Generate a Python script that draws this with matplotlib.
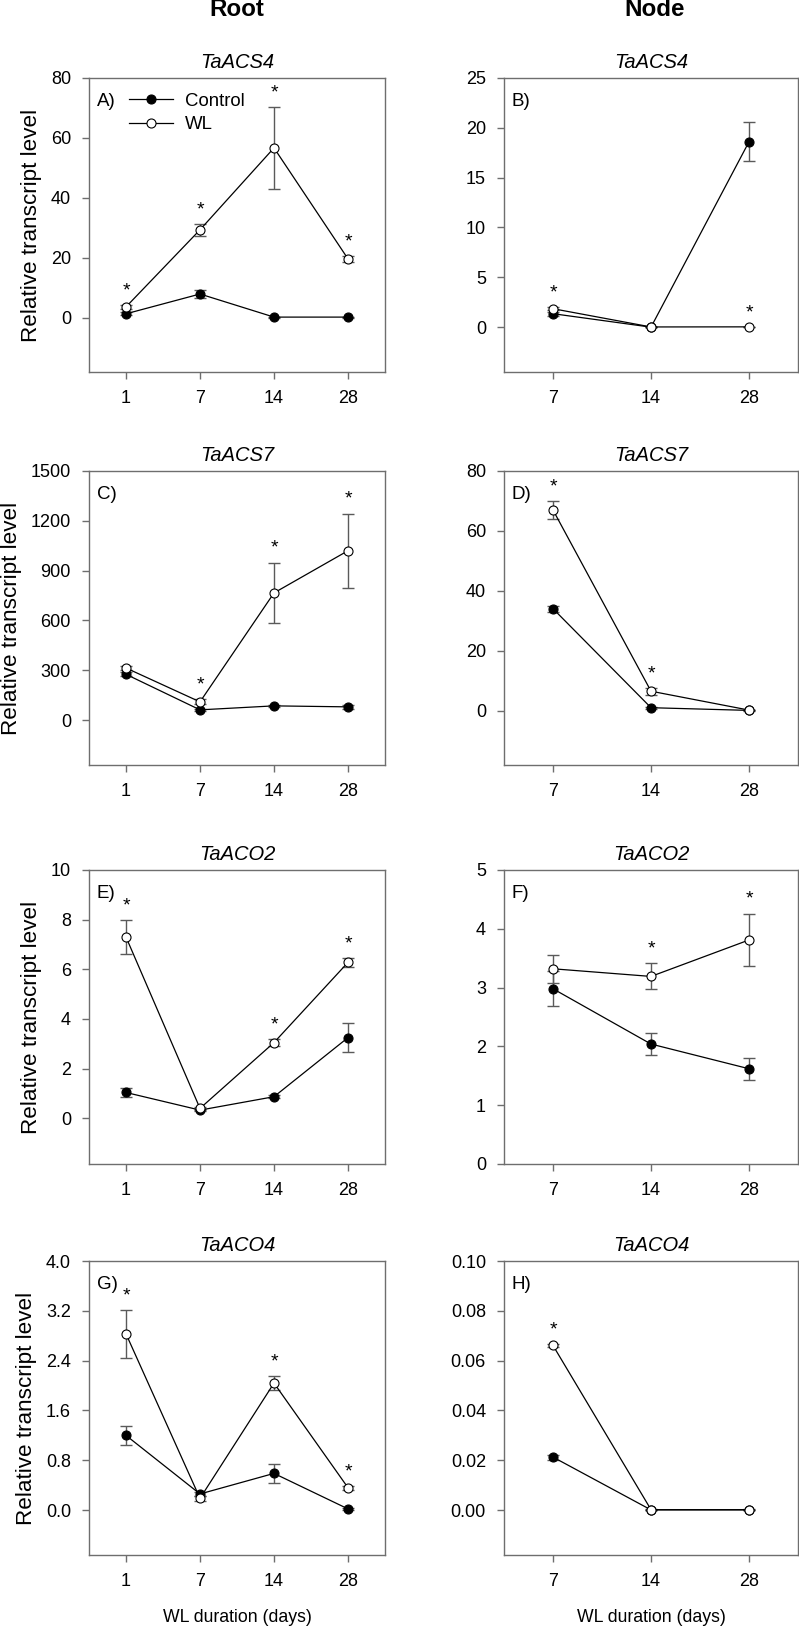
import matplotlib
matplotlib.use("Agg")
import matplotlib.pyplot as plt
import numpy as np

plt.rcParams['font.family'] = ['Liberation Sans', 'DejaVu Sans']

days_root = ["1", "7", "14", "28"]
days_node = ["7", "14", "28"]

# Panel A: Root TaACS4
a_ctrl = [1.4, 8.0, 0.3, 0.3]
a_ctrl_err = [0.5, 1.4, 0.2, 0.2]
a_wl = [3.7, 29.4, 56.7, 19.7]
a_wl_err = [0.6, 2.0, 13.7, 1.0]
a_star = [1, 1, 1, 1]
# Panel B: Node TaACS4
b_ctrl = [1.35, 0.0, 18.6]
b_ctrl_err = [0.2, 0.02, 1.95]
b_wl = [1.85, 0.02, 0.03]
b_wl_err = [0.15, 0.02, 0.02]
b_star = [1, 0, 1]
# Panel C: Root TaACS7
c_ctrl = [276, 62, 86, 80]
c_ctrl_err = [12, 8, 6, 10]
c_wl = [314, 110, 766, 1020]
c_wl_err = [15, 15, 183, 224]
c_star = [0, 1, 1, 1]
# Panel D: Node TaACS7
d_ctrl = [34.1, 1.1, 0.2]
d_ctrl_err = [1.0, 0.3, 0.1]
d_wl = [67.0, 6.6, 0.3]
d_wl_err = [3.0, 1.2, 0.1]
d_star = [1, 1, 0]
# Panel E: Root TaACO2
e_ctrl = [1.04, 0.33, 0.87, 3.25]
e_ctrl_err = [0.18, 0.05, 0.05, 0.57]
e_wl = [7.3, 0.4, 3.05, 6.28]
e_wl_err = [0.67, 0.05, 0.15, 0.17]
e_star = [1, 0, 1, 1]
# Panel F: Node TaACO2
f_ctrl = [2.98, 2.04, 1.62]
f_ctrl_err = [0.3, 0.19, 0.19]
f_wl = [3.32, 3.19, 3.81]
f_wl_err = [0.24, 0.22, 0.45]
f_star = [0, 1, 1]
# Panel G: Root TaACO4
g_ctrl = [1.2, 0.26, 0.59, 0.02]
g_ctrl_err = [0.15, 0.03, 0.15, 0.01]
g_wl = [2.83, 0.19, 2.04, 0.36]
g_wl_err = [0.38, 0.04, 0.11, 0.03]
g_star = [1, 0, 1, 1]
# Panel H: Node TaACO4
h_ctrl = [0.0213, 0.0001, 0.0001]
h_ctrl_err = [0.001, 0.0001, 0.0001]
h_wl = [0.0661, 0.0002, 0.0002]
h_wl_err = [0.0005, 0.0001, 0.0001]
h_star = [1, 0, 0]

genes = ["TaACS4", "TaACS4", "TaACS7", "TaACS7", "TaACO2", "TaACO2", "TaACO4", "TaACO4"]
letters = ["A)", "B)", "C)", "D)", "E)", "F)", "G)", "H)"]
ylims = [(-18, 80), (-4.5, 25), (-270, 1500), (-18, 80), (-1.84, 10), (0, 5), (-0.72, 4.0), (-0.018, 0.10)]
yticks = [[0, 20, 40, 60, 80], [0, 5, 10, 15, 20, 25], [0, 300, 600, 900, 1200, 1500],
          [0, 20, 40, 60, 80], [0, 2, 4, 6, 8, 10], [0, 1, 2, 3, 4, 5],
          [0.0, 0.8, 1.6, 2.4, 3.2, 4.0], [0.00, 0.02, 0.04, 0.06, 0.08, 0.10]]
yfmt = ["{:.0f}", "{:.0f}", "{:.0f}", "{:.0f}", "{:.0f}", "{:.0f}", "{:.1f}", "{:.2f}"]

panels = [
    (a_ctrl, a_ctrl_err, a_wl, a_wl_err, a_star),
    (b_ctrl, b_ctrl_err, b_wl, b_wl_err, b_star),
    (c_ctrl, c_ctrl_err, c_wl, c_wl_err, c_star),
    (d_ctrl, d_ctrl_err, d_wl, d_wl_err, d_star),
    (e_ctrl, e_ctrl_err, e_wl, e_wl_err, e_star),
    (f_ctrl, f_ctrl_err, f_wl, f_wl_err, f_star),
    (g_ctrl, g_ctrl_err, g_wl, g_wl_err, g_star),
    (h_ctrl, h_ctrl_err, h_wl, h_wl_err, h_star),
]

W, H = 799, 1630
fig = plt.figure(figsize=(W / 100, H / 100), dpi=100)

col_x = [(89, 385), (504, 798)]
row_top = [78, 471, 870, 1261]
ph = 294
spine_col = "#6e6e6e"
err_col = "#5a5a5a"

for i, (ctrl, ctrl_e, wl, wl_e, star) in enumerate(panels):
    r, c = divmod(i, 2)
    x0, x1 = col_x[c]
    top = row_top[r]
    ax = fig.add_axes([x0 / W, 1 - (top + ph) / H, (x1 - x0) / W, ph / H])
    labels = days_root if c == 0 else days_node
    xs = np.arange(len(labels))
    ax.errorbar(xs, ctrl, yerr=ctrl_e, fmt='none', ecolor=err_col, elinewidth=1.0,
                capsize=4, capthick=1.0, zorder=2)
    ax.errorbar(xs, wl, yerr=wl_e, fmt='none', ecolor=err_col, elinewidth=1.0,
                capsize=4, capthick=1.0, zorder=2)
    ax.plot(xs, ctrl, '-o', color='black', lw=0.9, ms=6.5, mfc='black', mec='black',
            mew=0.8, label='Control', zorder=3)
    ax.plot(xs, wl, '-o', color='black', lw=0.9, ms=6.5, mfc='white', mec='black',
            mew=0.8, label='WL', zorder=4)
    for xi, s, m, e in zip(xs, star, wl, wl_e):
        if s:
            ax.annotate("*", xy=(xi, m + e), xytext=(0, 4), textcoords='offset points',
                        ha='center', va='bottom', fontsize=14)
    ax.set_xlim(-0.5, len(labels) - 0.5)
    ax.set_xticks(xs)
    ax.set_xticklabels(labels)
    ax.set_ylim(*ylims[i])
    ax.set_yticks(yticks[i])
    ax.set_yticklabels([yfmt[i].format(v) for v in yticks[i]])
    for sp in ax.spines.values():
        sp.set_color(spine_col)
        sp.set_linewidth(1.0)
    ax.tick_params(direction='out', length=5, width=1.0, color=spine_col,
                   labelsize=13, pad=8, top=False, right=False)
    ax.set_title(genes[i], fontstyle='italic', fontsize=14.5, pad=7)
    ax.text(8 / 296, 1 - 15 / ph, letters[i], transform=ax.transAxes, ha='left', va='top',
            fontsize=13.5)
    if c == 0:
        ax.set_ylabel("Relative transcript level", fontsize=16.2, labelpad=6)
    if r == 3:
        ax.set_xlabel("WL duration (days)", fontsize=12.7, labelpad=14)
    if i == 0:
        ax.legend(loc='upper left', bbox_to_anchor=(0.09, 0.995), frameon=False,
                  fontsize=13.4, handlelength=2.4, handletextpad=0.6, labelspacing=0.35,
                  borderaxespad=0.3)

fig.text(237 / W, 1 - 10 / H, "Root", ha='center', va='center', fontsize=17.4, fontweight='bold')
fig.text(655 / W, 1 - 10 / H, "Node", ha='center', va='center', fontsize=17.4, fontweight='bold')

fig.savefig("out.png", dpi=100)
